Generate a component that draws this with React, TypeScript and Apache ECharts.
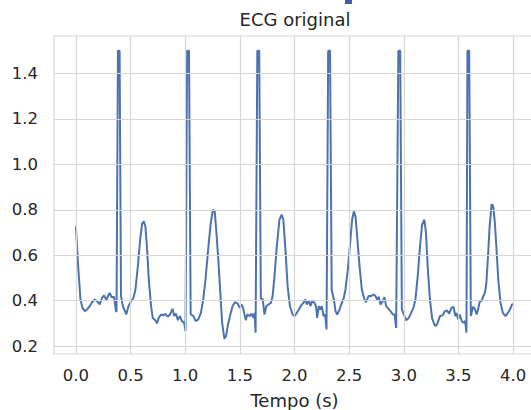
import React, { useEffect, useRef } from "react";
import * as echarts from "echarts";

const TITLE = "ECG original";
const X_NAME = "Tempo (s)";
const X_TICKS = [0, 0.5, 1, 1.5, 2, 2.5, 3, 3.5, 4];
const Y_TICKS = [0.2, 0.4, 0.6, 0.8, 1.0, 1.2, 1.4];

// time (s)
const time = [
  0.0, 0.021, 0.042, 0.061, 0.082, 0.103, 0.127, 0.148, 0.173, 0.194, 0.218, 0.239, 0.258, 0.279, 0.294, 0.309, 0.327, 0.348, 0.367, 0.372, 0.385, 0.4, 0.413,
  0.43, 0.461, 0.482, 0.506, 0.527, 0.545, 0.567, 0.588, 0.606, 0.621, 0.636, 0.652, 0.667, 0.688, 0.703, 0.727, 0.742, 0.758, 0.779, 0.8, 0.818, 0.839, 0.861, 0.885, 0.9, 0.915, 0.933, 0.952, 0.97, 0.991, 1.003, 1.018, 1.035, 1.05,
  1.075, 1.096, 1.12, 1.144, 1.165, 1.186, 1.21, 1.234, 1.254, 1.27, 1.284, 1.305, 1.323, 1.338, 1.359, 1.374, 1.389, 1.413, 1.434, 1.455, 1.479, 1.5, 1.518, 1.533, 1.554, 1.569, 1.593, 1.608, 1.623, 1.635, 1.644, 1.66, 1.677, 1.692,
  1.71, 1.725, 1.743, 1.763, 1.784, 1.8, 1.817, 1.838, 1.862, 1.883, 1.898, 1.919, 1.937, 1.958, 1.982, 2.003, 2.04, 2.061, 2.082, 2.098, 2.113, 2.131, 2.146, 2.162, 2.183, 2.198, 2.207, 2.223, 2.238, 2.25, 2.265, 2.28, 2.293, 2.308, 2.325, 2.34,
  2.36, 2.375, 2.39, 2.412, 2.433, 2.451, 2.466, 2.488, 2.509, 2.527, 2.543, 2.558, 2.573, 2.595, 2.616, 2.64, 2.655, 2.677, 2.7, 2.723, 2.741, 2.756, 2.771, 2.787, 2.808, 2.823, 2.838, 2.86, 2.878, 2.9, 2.915, 2.93, 2.95, 2.967, 2.982,
  3.0, 3.021, 3.045, 3.067, 3.088, 3.106, 3.127, 3.148, 3.167, 3.188, 3.203, 3.218, 3.239, 3.258, 3.279, 3.294, 3.309, 3.33, 3.355, 3.376, 3.394, 3.415, 3.436, 3.455, 3.47, 3.482, 3.497, 3.512, 3.53, 3.545, 3.561, 3.573, 3.582, 3.598, 3.613,
  3.633, 3.652, 3.667, 3.682, 3.697, 3.712, 3.727, 3.742, 3.755, 3.77, 3.785, 3.803, 3.818, 3.833, 3.848, 3.864, 3.885, 3.906, 3.93, 3.952, 3.97, 3.99, 3.998,
];

// ECG amplitude
const ecg = [
  0.727, 0.551, 0.405, 0.368, 0.354, 0.361, 0.376, 0.393, 0.405, 0.398, 0.383, 0.412, 0.423, 0.402, 0.42, 0.434, 0.415, 0.417, 0.354, 0.35, 1.5, 1.5, 0.42,
  0.376, 0.339, 0.376, 0.398, 0.412, 0.449, 0.551, 0.669, 0.739, 0.749, 0.727, 0.625, 0.493, 0.376, 0.324, 0.314, 0.3, 0.324, 0.339, 0.335, 0.342, 0.329, 0.339, 0.364, 0.332, 0.343, 0.314, 0.332, 0.31, 0.302, 0.266, 1.5, 1.5, 0.34,
  0.332, 0.31, 0.317, 0.346, 0.405, 0.493, 0.625, 0.742, 0.8, 0.793, 0.712, 0.566, 0.42, 0.302, 0.232, 0.244, 0.288, 0.339, 0.376, 0.393, 0.387, 0.368, 0.383, 0.361, 0.314, 0.339, 0.332, 0.343, 0.324, 0.346, 0.259, 1.5, 1.5, 0.41,
  0.405, 0.339, 0.376, 0.383, 0.39, 0.42, 0.507, 0.639, 0.756, 0.778, 0.756, 0.61, 0.464, 0.376, 0.339, 0.332, 0.361, 0.379, 0.39, 0.405, 0.383, 0.4, 0.376, 0.398, 0.39, 0.373, 0.324, 0.376, 0.361, 0.376, 0.332, 0.339, 0.273, 1.5, 1.5, 0.449,
  0.405, 0.354, 0.339, 0.361, 0.39, 0.412, 0.449, 0.537, 0.654, 0.756, 0.793, 0.771, 0.683, 0.551, 0.449, 0.405, 0.393, 0.42, 0.42, 0.427, 0.42, 0.405, 0.417, 0.383, 0.398, 0.415, 0.376, 0.364, 0.354, 0.339, 0.339, 0.28, 1.5, 1.5, 0.361,
  0.339, 0.314, 0.324, 0.346, 0.368, 0.405, 0.507, 0.639, 0.734, 0.756, 0.698, 0.551, 0.405, 0.324, 0.295, 0.288, 0.302, 0.332, 0.335, 0.354, 0.357, 0.343, 0.368, 0.373, 0.332, 0.346, 0.317, 0.339, 0.31, 0.302, 0.31, 0.259, 1.5, 1.5, 0.332,
  0.373, 0.361, 0.339, 0.368, 0.4, 0.398, 0.42, 0.434, 0.478, 0.595, 0.727, 0.825, 0.815, 0.742, 0.625, 0.493, 0.39, 0.346, 0.332, 0.346, 0.361, 0.383, 0.386,
];

const FONT = "DejaVu Sans";
const TEXT = "#262626";
const GRID = "#d6d6d6";
const LINE = "#4c72b0";

function isTick(v: number, list: number[]) {
  return list.some((t) => Math.abs(t - v) < 1e-6);
}

export default function App() {
  const ref = useRef<HTMLDivElement>(null);
  useEffect(() => {
    if (!ref.current) return;
    const chart = echarts.init(ref.current, undefined, { renderer: "svg" });
    const data = time.map((t, i) => [t, ecg[i]]);
    const gridLines = [
      ...X_TICKS.map((x) => ({ xAxis: x })),
      ...Y_TICKS.map((y) => ({ yAxis: y })),
    ];
    chart.setOption({
      animation: false,
      backgroundColor: "#ffffff",
      grid: {
        left: 54,
        right: -4,
        top: 36,
        bottom: 56,
        containLabel: false,
        outerBoundsMode: "none",
        show: true,
        borderColor: GRID,
        borderWidth: 1.2,
        backgroundColor: "transparent",
      },
      graphic: [
        {
          type: "text",
          x: 295,
          y: 10,
          style: { text: TITLE, font: `18px '${FONT}'`, fill: TEXT, textAlign: "center", textVerticalAlign: "top" },
        },
        { type: "rect", shape: { x: 345, y: 0, width: 7, height: 4 }, style: { fill: "#3f5fa8" } },
      ],
      xAxis: {
        type: "value",
        min: -0.2,
        max: 4.2,
        interval: 0.1,
        name: X_NAME,
        nameLocation: "middle",
        nameGap: 37,
        nameTextStyle: { fontFamily: FONT, fontSize: 18, color: TEXT },
        axisLine: { show: false, onZero: false },
        axisTick: { show: false },
        axisLabel: {
          fontFamily: FONT,
          fontSize: 16.5,
          color: TEXT,
          margin: 13,
          align: "center",
          verticalAlign: "top",
          formatter: (v: number) => (isTick(v, X_TICKS) ? v.toFixed(1) : ""),
        },
        splitLine: { show: false },
      },
      yAxis: {
        type: "value",
        min: 0.165,
        max: 1.565,
        interval: 0.005,
        axisLine: { show: false, onZero: false },
        axisTick: { show: false },
        axisLabel: {
          fontFamily: FONT,
          fontSize: 16.5,
          color: TEXT,
          margin: 16,
          align: "right",
          verticalAlign: "middle",
          formatter: (v: number) => (isTick(v, Y_TICKS) ? v.toFixed(1) : ""),
        },
        splitLine: { show: false },
      },
      series: [
        {
          type: "line",
          data: [],
          z: 1,
          silent: true,
          markLine: {
            silent: true,
            symbol: "none",
            label: { show: false },
            lineStyle: { color: GRID, type: "solid", width: 1.2 },
            data: gridLines,
          },
        },
        {
          type: "line",
          data,
          z: 3,
          showSymbol: false,
          symbol: "none",
          lineStyle: { color: LINE, width: 2 },
          clip: true,
        },
      ],
    });
    return () => chart.dispose();
  }, []);
  return (
    <div
      ref={ref}
      style={{ position: "fixed", left: 0, top: 0, width: 531, height: 410, background: "#fff" }}
    />
  );
}
